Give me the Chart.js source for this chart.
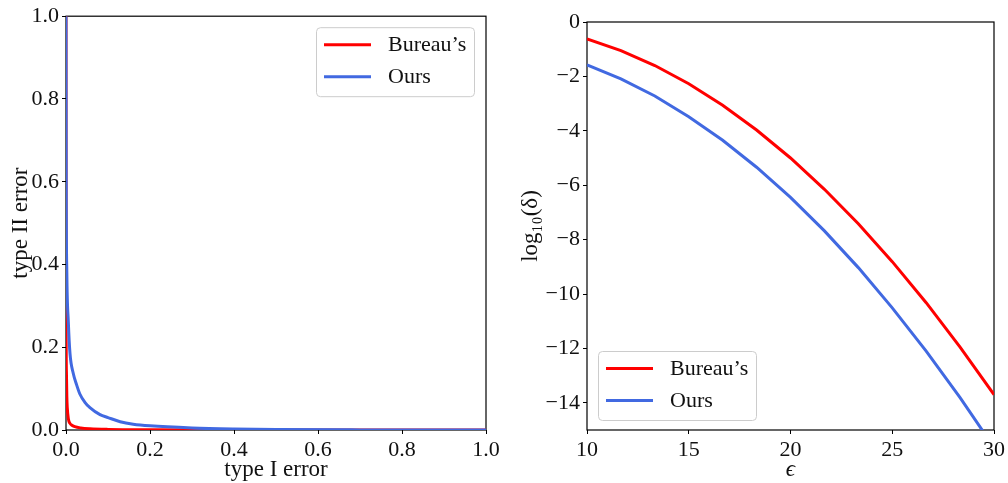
<!DOCTYPE html>
<html>
<head>
<meta charset="utf-8">
<script src="https://cdn.jsdelivr.net/npm/chart.js@4/dist/chart.umd.min.js"></script>
<style>
  body { margin: 0; background: #fff; }
  #wrap { position: relative; width: 1008px; height: 483px; }
  canvas { position: absolute; top: 0; }
  #left { left: 0; }
  #right { left: 504px; }
</style>
</head>
<body>
<div id="wrap">
  <canvas id="left" width="504" height="483"></canvas>
  <canvas id="right" width="504" height="483"></canvas>
</div>
<script>
// series names
const seriesNames = ['Bureau\u2019s', 'Ours'];

// left panel: type I error vs type II error
const bureauTypeOne = [0, 0.0003, 0.001, 0.002, 0.003, 0.0056, 0.0095, 0.015, 0.021, 0.035, 0.057, 0.1, 0.2, 0.4, 1.0];
const bureauTypeTwo = [1.0, 0.26, 0.14, 0.08, 0.054, 0.027, 0.016, 0.011, 0.008, 0.005, 0.003, 0.0015, 0.0005, 0.0001, 0];
const oursTypeOne = [0, 0.0005, 0.002, 0.0056, 0.0095, 0.0175, 0.025, 0.033, 0.045, 0.057, 0.081, 0.1, 0.129, 0.16, 0.2, 0.3, 0.4, 0.5, 0.7, 1.0];
const oursTypeTwo = [1.0, 0.6, 0.38, 0.26, 0.185, 0.136, 0.11, 0.087, 0.067, 0.054, 0.037, 0.03, 0.02, 0.014, 0.01, 0.005, 0.0025, 0.0012, 0.0003, 0];
const leftTicks = [0, 0.2, 0.4, 0.6, 0.8, 1.0];

// right panel: epsilon vs log10(delta)
const eps = [10, 11.667, 13.333, 15, 16.667, 18.333, 20, 21.667, 23.333, 25, 26.667, 28.333, 30];
const bureauLogDelta = [-0.62, -1.05, -1.60, -2.27, -3.06, -3.97, -5.0, -6.15, -7.42, -8.81, -10.32, -11.95, -13.7];
const oursLogDelta = [-1.58, -2.09, -2.72, -3.48, -4.35, -5.34, -6.45, -7.68, -9.03, -10.51, -12.10, -13.81, -15.64];
const epsTicks = [10, 15, 20, 25, 30];
const logTicks = [0, -2, -4, -6, -8, -10, -12, -14];

const colors = ['#ff0000', '#4169e1'];
const FAMILY = '"Liberation Serif", "DejaVu Serif", serif';
const tickFont = { family: FAMILY, size: 22 };
const titleFont = { family: FAMILY, size: 23, lineHeight: 1 };
const INK = '#111';

function points(xs, ys) {
    return xs.map((x, i) => ({ x: x, y: ys[i] }));
}

// box round the plot area, like matplotlib spines
const framePlugin = {
    id: 'frame',
    beforeDatasetsDraw(chart) {
        const { ctx, chartArea: a } = chart;
        ctx.save();
        ctx.strokeStyle = '#000';
        ctx.lineWidth = 1.2;
        ctx.strokeRect(a.left, a.top, a.right - a.left, a.bottom - a.top);
        ctx.restore();
    }
};

// legend drawn inside the axes
const boxLegend = {
    id: 'boxLegend',
    afterDraw(chart, args, opts) {
        const { ctx, chartArea: a } = chart;
        const w = 158, h = 69;
        const x = opts.corner === 'tr' ? a.right - opts.dx - w : a.left + opts.dx;
        const y = opts.corner === 'tr' ? a.top + opts.dy : a.bottom - opts.dy - h;
        ctx.save();
        ctx.beginPath();
        ctx.roundRect(x + 0.5, y + 0.5, w, h, 4);
        ctx.fillStyle = 'rgba(255,255,255,0.8)';
        ctx.fill();
        ctx.strokeStyle = '#cccccc';
        ctx.lineWidth = 1;
        ctx.stroke();
        chart.data.datasets.forEach((ds, i) => {
            const ry = y + 17.5 + i * 32;
            ctx.strokeStyle = ds.borderColor;
            ctx.lineWidth = 3;
            ctx.beginPath();
            ctx.moveTo(x + 8, ry);
            ctx.lineTo(x + 55, ry);
            ctx.stroke();
            ctx.fillStyle = INK;
            ctx.font = '22px ' + FAMILY;
            ctx.textBaseline = 'middle';
            ctx.fillText(ds.label, x + 72, ry + 1);
        });
        ctx.restore();
    }
};

function axis(opts) {
    return {
        type: 'linear',
        min: opts.min,
        max: opts.max,
        afterBuildTicks: s => { s.ticks = opts.ticks.map(v => ({ value: v })); },
        afterFit: opts.fit,
        ticks: {
            autoSkip: false,
            maxRotation: 0,
            font: tickFont,
            color: INK,
            padding: 3,
            callback: opts.label
        },
        grid: { display: true, drawOnChartArea: false, drawTicks: true, tickLength: 4, color: '#000' },
        border: { display: false },
        title: {
            display: true,
            text: opts.title,
            font: opts.titleFont || titleFont,
            color: INK,
            padding: opts.titlePad
        }
    };
}

// later series drawn on top, as in matplotlib
function dataset(label, color, data, smooth, idx) {
    return {
        label: label,
        data: data,
        order: 10 - idx,
        borderColor: color,
        backgroundColor: color,
        borderWidth: 3,
        pointRadius: 0,
        fill: false,
        clip: 0,
        tension: 0,
        cubicInterpolationMode: smooth ? 'monotone' : 'default'
    };
}

new Chart(document.getElementById('left'), {
    type: 'line',
    data: {
        datasets: [
            dataset(seriesNames[0], colors[0], points(bureauTypeOne, bureauTypeTwo), true, 0),
            dataset(seriesNames[1], colors[1], points(oursTypeOne, oursTypeTwo), true, 1)
        ]
    },
    options: {
        responsive: false,
        animation: false,
        layout: { padding: { left: 0, right: 18, top: 13, bottom: 0 } },
        scales: {
            x: axis({ min: 0, max: 1, ticks: leftTicks, label: v => v.toFixed(1),
                      title: 'type I error', titlePad: { top: 0, bottom: 2 },
                      fit: s => { s.height = 53; } }),
            y: axis({ min: 0, max: 1, ticks: leftTicks, label: v => v.toFixed(1),
                      title: 'type II error', titlePad: { top: 9, bottom: 0 },
                      fit: s => { s.width = 66; } })
        },
        plugins: {
            legend: { display: false },
            tooltip: { enabled: false },
            boxLegend: { corner: 'tr', dx: 12, dy: 11 }
        }
    },
    plugins: [framePlugin, boxLegend]
});

new Chart(document.getElementById('right'), {
    type: 'line',
    data: {
        datasets: [
            dataset(seriesNames[0], colors[0], points(eps, bureauLogDelta), false, 0),
            dataset(seriesNames[1], colors[1], points(eps, oursLogDelta), false, 1)
        ]
    },
    options: {
        responsive: false,
        animation: false,
        layout: { padding: { left: 0, right: 11, top: 22, bottom: 0 } },
        scales: {
            x: axis({ min: 10, max: 30, ticks: epsTicks, label: v => String(v),
                      title: '\u03f5', titleFont: { family: FAMILY, size: 23, style: 'italic', lineHeight: 1 },
                      titlePad: { top: 0, bottom: 2 },
                      fit: s => { s.height = 53; } }),
            y: axis({ min: -15, max: 0, ticks: logTicks, label: v => String(v).replace('-', '\u2212'),
                      title: 'log\u2081\u2080(\u03b4)', titlePad: { top: 15, bottom: 0 },
                      fit: s => { s.width = 83; } })
        },
        plugins: {
            legend: { display: false },
            tooltip: { enabled: false },
            boxLegend: { corner: 'bl', dx: 11, dy: 10 }
        }
    },
    plugins: [framePlugin, boxLegend]
});
</script>
</body>
</html>
